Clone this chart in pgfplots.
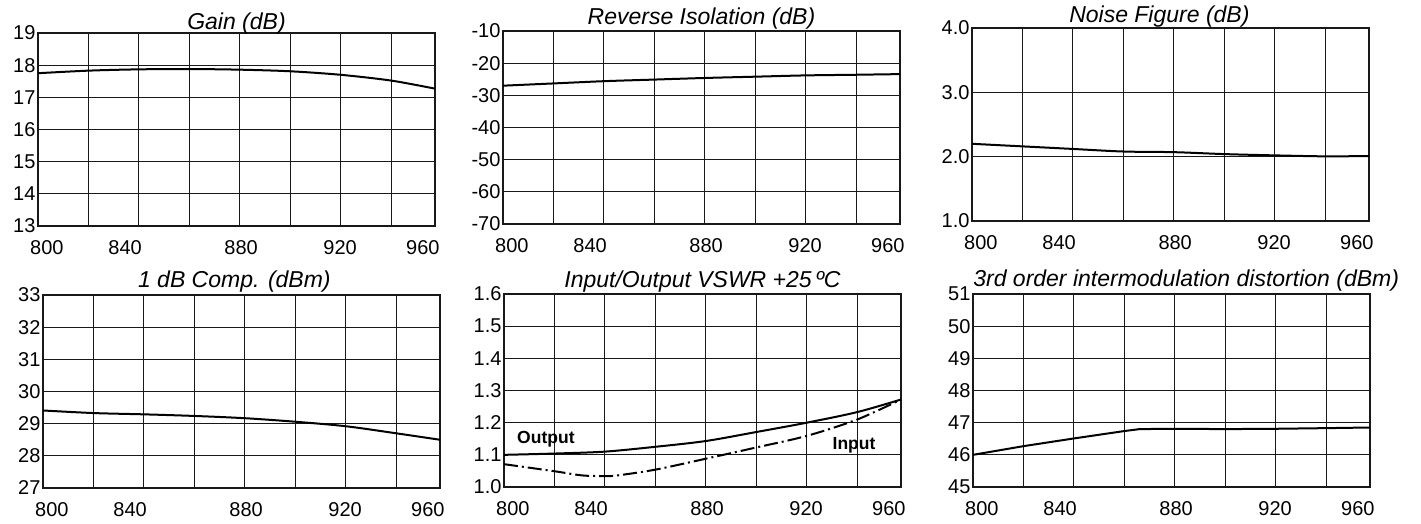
\documentclass[border=0pt]{standalone}
\usepackage{fontspec}
\setmainfont{Liberation Sans}
\usepackage{pgfplots}
\pgfplotsset{compat=1.18}
\newcommand\ticksize{\fontsize{20}{23}\selectfont}
\newcommand\titlefont{\fontsize{23}{26}\selectfont\itshape}
\pgfplotsset{
  panel/.style={
    scale only axis, width=397pt, height=193pt,
    xmin=800, xmax=957.3,
    xtick={820,840,...,940}, xticklabels={,,,,,,,},
    major tick length=0pt,
    grid=major, major grid style={black!90, line width=1pt},
    axis line style={black!90, line width=1.1pt},
    extra x ticks={803.5,834.5,880.5,919.7,952.5},
    extra x tick labels={800,\raisebox{-2pt}{840},880,920,\raisebox{3pt}{960}},
    extra x tick style={grid=none, major tick length=0pt},
    tick label style={font=\ticksize},
    xticklabel style={yshift=-11pt},
    yticklabel style={xshift=1pt},
    title style={font=\titlefont, anchor=base, at={(0.5,1)}},
    /pgf/number format/assume math mode=true,
    every axis plot/.append style={black, line width=2pt, mark=none},
  }
}
\begin{document}
\begin{tikzpicture}
\path[use as bounding box] (0,0) rectangle (1421pt,523pt);

% Gain
\begin{axis}[panel, at={(38pt,297pt)}, anchor=south west,
  ymin=13, ymax=19, ytick={13,14,...,19},
  yticklabels={13,14,15,16,17,18,19},
  title={Gain (dB)}, title style={yshift=-2pt}]
\addplot[smooth] coordinates {(800,17.75)(820,17.83)(840,17.87)(860,17.88)(880,17.86)(900,17.81)(920,17.70)(940,17.52)(957.3,17.27)};
\end{axis}

% Reverse Isolation
\begin{axis}[panel, at={(503pt,299pt)}, anchor=south west,
  ymin=-70, ymax=-10, ytick={-70,-60,...,-10},
  yticklabels={-70,-60,-50,-40,-30,-20,-10},
  title={Reverse Isolation (dB)}, title style={yshift=1pt}]
\addplot[smooth] coordinates {(800,-27.0)(820,-26.3)(840,-25.6)(860,-25.1)(880,-24.6)(900,-24.2)(920,-23.8)(940,-23.6)(957.3,-23.4)};
\end{axis}

% Noise Figure
\begin{axis}[panel, at={(972pt,302pt)}, anchor=south west,
  ymin=1, ymax=4, ytick={1,2,3,4},
  yticklabels={1.0,2.0,3.0,4.0},
  title={Noise Figure (dB)}, title style={at={(0.472,1)}, yshift=0pt}]
\addplot[smooth] coordinates {(800,2.20)(820,2.16)(840,2.12)(860,2.08)(880,2.07)(900,2.04)(920,2.02)(940,2.005)(957.3,2.01)};
\end{axis}

% 1 dB Comp
\begin{axis}[panel, at={(43pt,35pt)}, anchor=south west,
  ymin=27, ymax=33, ytick={27,28,...,33},
  yticklabels={27,28,29,30,31,32,33},
  title={1 dB Comp. (dBm)}, title style={at={(0.482,1)}, yshift=2pt}]
\addplot[smooth] coordinates {(800,29.41)(820,29.33)(840,29.29)(860,29.24)(880,29.17)(900,29.06)(920,28.92)(940,28.70)(957.3,28.50)};
\end{axis}

% VSWR
\begin{axis}[panel, at={(504pt,36pt)}, anchor=south west,
  ymin=1.0, ymax=1.6, ytick={1.0,1.1,1.2,1.3,1.4,1.5,1.6},
  yticklabels={1.0,1.1,1.2,1.3,1.4,1.5,1.6},
  title={Input/Output VSWR +25\,ºC}, title style={yshift=1pt}]
\addplot[smooth] coordinates {(800,1.100)(820,1.104)(840,1.110)(860,1.125)(880,1.143)(900,1.171)(920,1.200)(940,1.233)(957.3,1.272)};
\addplot[smooth, dash pattern=on 14pt off 4pt on 2pt off 4pt] coordinates {(800,1.071)(820,1.049)(831,1.036)(840,1.034)(845,1.036)(860,1.054)(880,1.088)(900,1.123)(920,1.159)(940,1.21)(957.3,1.272)};
\node[font=\fontsize{17.5}{20}\selectfont\bfseries] at (axis cs:816.6,1.148) {Output};
\node[font=\fontsize{17.5}{20}\selectfont\bfseries] at (axis cs:938.7,1.13) {Input};
\end{axis}

% IMD
\begin{axis}[panel, at={(973pt,36pt)}, anchor=south west,
  ymin=45, ymax=51, ytick={45,46,...,51},
  yticklabels={45,46,47,48,49,50,51},
  title={3rd order intermodulation distortion (dBm)}, title style={at={(0.537,1)}, yshift=2pt}]
\addplot[sharp plot] coordinates {(800,46.0)(820,46.27)(840,46.51)(860,46.74)(866,46.80)(880,46.81)(900,46.80)(920,46.81)(940,46.83)(957.3,46.85)};
\end{axis}
\end{tikzpicture}
\end{document}
